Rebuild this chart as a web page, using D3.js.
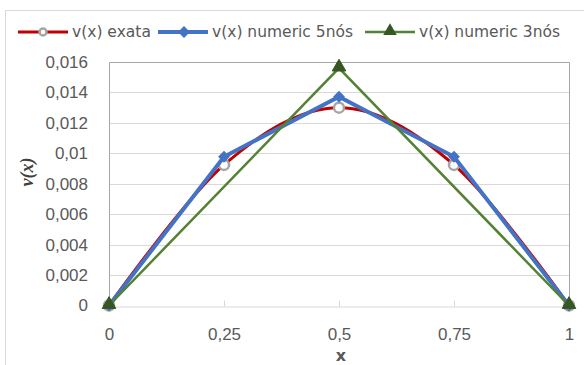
<!DOCTYPE html>
<html>
<head>
<meta charset="utf-8">
<style>
  body { margin: 0; background: #fff; }
  svg { display: block; font-family: "DejaVu Sans", sans-serif; }
  .grid line { stroke: #d9d9d9; }
  .tick text { fill: #595959; }
</style>
</head>
<body>
<svg width="584" height="365"></svg>
<script src="https://d3js.org/d3.v7.min.js"></script>
<script>
// data
var xs5 = [0, 0.25, 0.5, 0.75, 1];
var exata = [0, 0.00924, 0.0130, 0.00924, 0];
var numeric5 = [0, 0.00977, 0.01372, 0.00977, 0];
var xs3 = [0, 0.5, 1];
var numeric3 = [0, 0.0156, 0];
var xTicks = [0, 0.25, 0.5, 0.75, 1];
var yTicks = [0, 0.002, 0.004, 0.006, 0.008, 0.01, 0.012, 0.014, 0.016];
var legendNames = ["v(x) exata", "v(x) numeric 5nós", "v(x) numeric 3nós"];

var svg = d3.select("svg");
var pad = {left: 109, right: 569, top: 62, bottom: 305.5};

var x = d3.scaleLinear().domain([0, 1]).range([pad.left, pad.right]);
var y = d3.scaleLinear().domain([0, 0.016]).range([pad.bottom, pad.top]);
var fmt = function(d) { return String(d).replace(".", ","); };

// chart border
svg.append("rect")
  .attr("x", 5.5).attr("y", 10.5).attr("width", 600).attr("height", 400)
  .attr("fill", "none").attr("stroke", "#d9d9d9");

// grid
svg.append("g").attr("class", "grid")
  .selectAll("line").data(yTicks.slice(1, -1)).join("line")
  .attr("x1", pad.left).attr("x2", pad.right)
  .attr("y1", function(d) { return Math.round(y(d)) + 0.5; })
  .attr("y2", function(d) { return Math.round(y(d)) + 0.5; });

// plot border
svg.append("path")
  .attr("d", "M" + (pad.left + 0.5) + "," + Math.round(pad.bottom) + "V" + (pad.top + 0.5) +
    "H" + (pad.right + 0.5) + "V" + Math.round(pad.bottom))
  .attr("fill", "none").attr("stroke", "#a6a6a6");

// x axis
var xAxis = svg.append("g")
  .attr("transform", "translate(0," + (Math.round(pad.bottom) + 0.5) + ")")
  .call(d3.axisBottom(x).tickValues(xTicks).tickFormat(fmt).tickSize(0).tickPadding(21));
xAxis.select(".domain").attr("stroke", "#d9d9d9");
xAxis.selectAll(".tick text").attr("font-size", 17);
xAxis.selectAll(".tick").filter(function(d) { return d > 0 && d < 1; })
  .append("line").attr("y1", 0).attr("y2", -6).attr("stroke", "#d9d9d9");

// y axis
var yAxis = svg.append("g")
  .attr("transform", "translate(" + pad.left + ",0)")
  .call(d3.axisLeft(y).tickValues(yTicks).tickFormat(fmt).tickSize(0).tickPadding(21));
yAxis.select(".domain").remove();
yAxis.selectAll(".tick text").attr("font-size", 17);

// axis titles
svg.append("text").attr("x", x(0.5) + 2).attr("y", 361).attr("text-anchor", "middle")
  .attr("font-size", 16).attr("font-weight", "bold").attr("fill", "#595959").text("x");
svg.append("text")
  .attr("transform", "translate(33,172) rotate(-90)")
  .attr("text-anchor", "middle").attr("font-family", "'Liberation Serif', serif")
  .attr("font-size", 18).attr("font-weight", "bold").attr("font-style", "italic")
  .attr("fill", "#404040").text("v(x)");

// series
var red = "#c00000", blue = "#4472c4", green = "#548235", dgreen = "#375623";

var smooth = d3.line().curve(d3.curveCardinal)
  .x(function(d, i) { return x(xs5[i]); }).y(function(d) { return y(d); });
svg.append("path").datum(exata).attr("d", smooth)
  .attr("fill", "none").attr("stroke", red).attr("stroke-width", 3);
svg.append("g").selectAll("circle").data(exata).join("circle")
  .attr("cx", function(d, i) { return x(xs5[i]); }).attr("cy", function(d) { return y(d); })
  .attr("r", 5).attr("fill", "#fff").attr("stroke", "#a5a5a5").attr("stroke-width", 2.5);

var line5 = d3.line().x(function(d, i) { return x(xs5[i]); }).y(function(d) { return y(d); });
svg.append("path").datum(numeric5).attr("d", line5)
  .attr("fill", "none").attr("stroke", blue).attr("stroke-width", 4);
var diamond = d3.symbol().type(d3.symbolDiamond2).size(90);
svg.append("g").selectAll("path").data(numeric5).join("path")
  .attr("transform", function(d, i) { return "translate(" + x(xs5[i]) + "," + y(d) + ")"; })
  .attr("d", diamond).attr("fill", blue);

var line3 = d3.line().x(function(d, i) { return x(xs3[i]); }).y(function(d) { return y(d); });
svg.append("path").datum(numeric3).attr("d", line3)
  .attr("fill", "none").attr("stroke", green).attr("stroke-width", 2.5);
var tri = d3.symbol().type(d3.symbolTriangle).size(80);
svg.append("g").selectAll("path").data(numeric3).join("path")
  .attr("transform", function(d, i) { return "translate(" + x(xs3[i]) + "," + (y(d) - 1) + ")"; })
  .attr("d", tri).attr("fill", dgreen).attr("stroke", dgreen).attr("stroke-width", 1);

// legend
var legX = [18, 158, 365];
var leg = svg.append("g").selectAll("g").data(legendNames).join("g")
  .attr("transform", function(d, i) { return "translate(" + legX[i] + ",32)"; });
leg.append("line").attr("x1", 0).attr("x2", 50)
  .attr("stroke", function(d, i) { return [red, blue, green][i]; })
  .attr("stroke-width", function(d, i) { return [3, 4, 2.5][i]; });
leg.filter(function(d, i) { return i === 0; }).append("circle")
  .attr("cx", 25).attr("r", 3.5).attr("fill", "#fff").attr("stroke", "#a5a5a5").attr("stroke-width", 2.5);
leg.filter(function(d, i) { return i === 1; }).append("path")
  .attr("transform", "translate(26,0)").attr("d", diamond).attr("fill", blue);
leg.filter(function(d, i) { return i === 2; }).append("path")
  .attr("transform", "translate(25,-1)").attr("d", tri).attr("fill", dgreen);
leg.append("text").attr("x", 54).attr("dy", "0.35em").attr("font-size", 15.5)
  .attr("fill", "#595959").text(function(d) { return d; });
</script>
</body>
</html>
